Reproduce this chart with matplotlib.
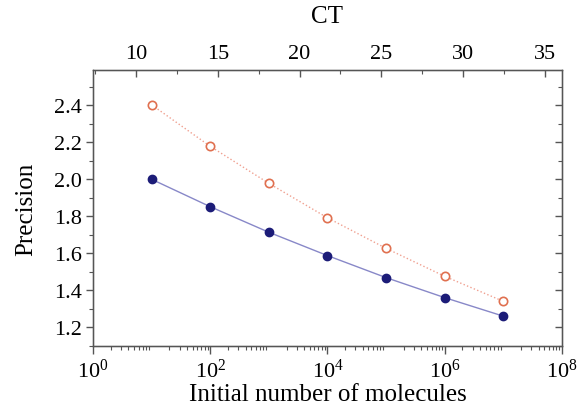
import matplotlib
matplotlib.use("Agg")
from matplotlib import pyplot as plt
from matplotlib.ticker import MultipleLocator, LogLocator, NullFormatter, FormatStrFormatter

# initial number of molecules (10^1 .. 10^7)
molecules = [1e1, 1e2, 1e3, 1e4, 1e5, 1e6, 1e7]
precision_blue = [2.00, 1.852, 1.714, 1.588, 1.469, 1.361, 1.261]
precision_red = [2.402, 2.178, 1.978, 1.792, 1.627, 1.476, 1.341]

ct_ticks = [10, 15, 20, 25, 30, 35]

plt.rcParams['font.family'] = ['Liberation Serif', 'DejaVu Serif']
plt.rcParams['mathtext.fontset'] = 'stix'
plt.rcParams['font.size'] = 16

fig = plt.figure(figsize=(5.79, 4.10), dpi=100)
ax = fig.add_axes([0.1606, 0.1537, 0.81, 0.6731])

spine_col = '#555555'
tick_fs = 16
label_fs = 18

ax.plot(molecules, precision_red, linestyle=':', color='#f0a090', lw=1.0,
        marker='o', markersize=6, markerfacecolor='white',
        markeredgecolor='#e07050', markeredgewidth=1.2)
ax.plot(molecules, precision_blue, linestyle='-', color='#8888c8', lw=1.0,
        marker='o', markersize=6, markerfacecolor='#1c1c78',
        markeredgecolor='#1c1c78')

ax.set_xscale('log')
ax.set_xlim(1, 1e8)
ax.set_ylim(1.1, 2.59)
ax.set_xticks([1, 1e2, 1e4, 1e6, 1e8])
ax.xaxis.set_minor_locator(LogLocator(base=10, subs=range(2, 10), numticks=20))
ax.xaxis.set_minor_formatter(NullFormatter())
ax.yaxis.set_major_locator(MultipleLocator(0.2))
ax.yaxis.set_minor_locator(MultipleLocator(0.1))
ax.yaxis.set_major_formatter(FormatStrFormatter('%.1f'))

ax.set_xlabel('Initial number of molecules', fontsize=label_fs, labelpad=1)
ax.set_ylabel('Precision', fontsize=label_fs, labelpad=12)

ax.tick_params(axis='x', which='major', direction='out', length=6, width=1,
               color=spine_col, pad=3, labelsize=tick_fs)
ax.tick_params(axis='x', which='minor', direction='out', length=3, width=0.8,
               color=spine_col)
ax.tick_params(axis='y', which='major', direction='out', length=5, width=1,
               color=spine_col, right=False, labelsize=tick_fs, pad=3)
ax.tick_params(axis='y', which='minor', direction='out', length=3, width=0.8,
               color=spine_col)

for s in ax.spines.values():
    s.set_color(spine_col)
    s.set_linewidth(1.0)

# right side ticks, mirrored inside
axr = ax.twinx()
axr.set_ylim(ax.get_ylim())
axr.yaxis.set_major_locator(MultipleLocator(0.2))
axr.yaxis.set_minor_locator(MultipleLocator(0.1))
axr.tick_params(axis='y', which='major', direction='in', length=5, width=1,
                color=spine_col, labelright=False)
axr.tick_params(axis='y', which='minor', direction='in', length=3, width=0.8,
                color=spine_col)
for s in axr.spines.values():
    s.set_color(spine_col)

# top CT axis
axt = ax.twiny()
axt.set_xlim(7.37, 36.04)
axt.set_xticks(ct_ticks)
axt.xaxis.set_minor_locator(MultipleLocator(2.5))
axt.tick_params(axis='x', which='major', direction='in', length=5, width=1,
                color=spine_col, labelsize=tick_fs, pad=5)
axt.tick_params(axis='x', which='minor', direction='in', length=3, width=0.8,
                color=spine_col)
axt.set_xlabel('CT', fontsize=label_fs, labelpad=16)
for s in axt.spines.values():
    s.set_color(spine_col)

fig.savefig('out.png', dpi=100)
